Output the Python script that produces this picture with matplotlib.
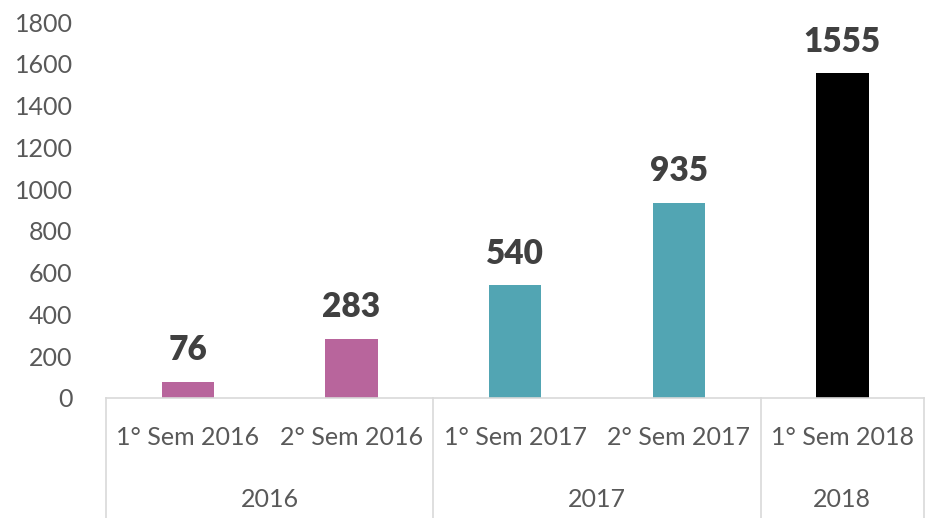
import matplotlib.pyplot as plt

plt.rcParams['font.family'] = ['Lato', 'DejaVu Sans']

semesters = ["1° Sem 2016", "2° Sem 2016", "1° Sem 2017", "2° Sem 2017", "1° Sem 2018"]
values = [76, 283, 540, 935, 1555]
colors = ["#B8659C", "#B8659C", "#52A5B3", "#52A5B3", "#000000"]
years = ["2016", "2017", "2018"]
year_spans = [(0, 1), (2, 3), (4, 4)]

fig = plt.figure(figsize=(9.26, 5.18), dpi=100)
ax = fig.add_axes([0.1145, 0.2317, 0.8835, 0.7258])

x = list(range(len(values)))
ax.bar(x, values, width=0.32, color=colors)
for xi, v in zip(x, values):
    ax.text(xi, v + 75, str(v), ha='center', va='bottom', fontsize=24,
            fontweight='heavy', color='#404040')

ax.set_xlim(-0.5, 4.5)
ax.set_ylim(0, 1800)
ax.set_yticks(range(0, 1801, 200))
ax.tick_params(axis='y', length=0, pad=24, labelsize=18, labelcolor='#595959')
ax.set_xticks([])
for s in ['top', 'right', 'left']:
    ax.spines[s].set_visible(False)
ax.spines['bottom'].set_color('#D9D9D9')
ax.spines['bottom'].set_linewidth(1.2)

trans = ax.get_xaxis_transform()
for xi, lab in zip(x, semesters):
    ax.text(xi, -0.106, lab, transform=trans, ha='center', va='center',
            fontsize=18, color='#595959')
for (a, b), yr in zip(year_spans, years):
    ax.text((a + b) / 2, -0.271, yr, transform=trans, ha='center', va='center',
            fontsize=18, color='#595959')

for sx in [-0.5, 1.5, 3.5, 4.5]:
    ax.plot([sx, sx], [0, -0.33], transform=trans, color='#D9D9D9',
            linewidth=1.2, clip_on=False)

fig.savefig("out.png", dpi=100)
